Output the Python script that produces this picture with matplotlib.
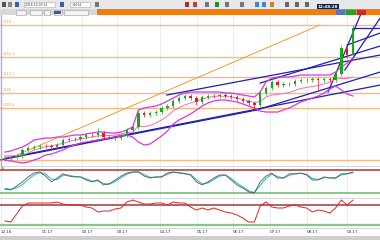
import matplotlib
matplotlib.use("Agg")
import matplotlib.pyplot as plt
from matplotlib.patches import Rectangle

# daily closes (price units)
first_open = 1048
closes = [1050, 1052, 1054, 1066, 1070, 1072, 1074, 1074, 1072, 1076,
          1086, 1088, 1088, 1092, 1096, 1096, 1100, 1092, 1092, 1090,
          1096, 1106, 1112, 1140, 1136, 1140, 1142, 1150, 1154, 1164,
          1170, 1174, 1170, 1162, 1172, 1174, 1174, 1176, 1174, 1172,
          1168, 1164, 1160, 1156, 1180, 1190, 1202, 1196, 1198, 1198,
          1204, 1206, 1206, 1208, 1206, 1208, 1206, 1218, 1270, 1256, 1310]
highs = [1054, 1056, 1058, 1070, 1074, 1076, 1078, 1078, 1078, 1080,
         1090, 1092, 1092, 1096, 1100, 1100, 1110, 1104, 1096, 1096,
         1100, 1110, 1116, 1146, 1144, 1144, 1146, 1154, 1158, 1168,
         1174, 1178, 1178, 1174, 1176, 1178, 1178, 1180, 1180, 1178,
         1176, 1172, 1168, 1164, 1184, 1194, 1206, 1206, 1202, 1202,
         1208, 1210, 1210, 1212, 1212, 1212, 1212, 1222, 1276, 1274, 1316]
lows = [1044, 1046, 1048, 1050, 1062, 1066, 1068, 1070, 1068, 1068,
        1072, 1082, 1084, 1084, 1088, 1092, 1092, 1088, 1088, 1086,
        1086, 1092, 1102, 1108, 1132, 1132, 1136, 1138, 1146, 1150,
        1160, 1166, 1166, 1156, 1158, 1168, 1170, 1170, 1170, 1168,
        1164, 1160, 1156, 1146, 1152, 1176, 1186, 1192, 1192, 1194,
        1194, 1200, 1202, 1202, 1186, 1202, 1202, 1202, 1214, 1250, 1252]

# bollinger bands as drawn on the chart
bb_upper = [1062, 1064, 1068, 1072, 1078, 1086, 1088, 1090, 1090, 1092,
            1092, 1094, 1096, 1096, 1098, 1100, 1102, 1102, 1100, 1100,
            1102, 1106, 1112, 1146, 1150, 1152, 1154, 1158, 1164, 1170,
            1176, 1180, 1182, 1182, 1182, 1182, 1182, 1182, 1180, 1180,
            1178, 1176, 1174, 1172, 1182, 1202, 1210, 1212, 1212, 1212,
            1214, 1216, 1216, 1216, 1216, 1216, 1216, 1222, 1232, 1240, 1250]
bb_mid = [1054, 1054, 1055, 1056, 1060, 1066, 1069, 1073, 1074, 1077,
          1079, 1083, 1086, 1088, 1090, 1092, 1094, 1095, 1095, 1096,
          1098, 1101, 1102, 1114, 1113, 1115, 1120, 1126, 1134, 1144,
          1151, 1156, 1160, 1164, 1168, 1171, 1173, 1174, 1173, 1172,
          1170, 1167, 1164, 1161, 1163, 1172, 1176, 1177, 1179, 1181,
          1185, 1189, 1191, 1193, 1195, 1198, 1202, 1208, 1209, 1209, 1212]
bb_lower = [1046, 1044, 1042, 1040, 1042, 1046, 1050, 1056, 1058, 1062,
            1066, 1072, 1076, 1080, 1082, 1084, 1086, 1088, 1090, 1092,
            1094, 1096, 1092, 1082, 1076, 1078, 1086, 1094, 1104, 1118,
            1126, 1132, 1138, 1146, 1154, 1160, 1164, 1166, 1166, 1164,
            1162, 1158, 1154, 1150, 1144, 1142, 1142, 1142, 1146, 1150,
            1156, 1162, 1166, 1170, 1174, 1180, 1188, 1194, 1186, 1178, 1174]

# oscillators
stoch_k = [30, 28, 38, 49, 62, 72, 75, 64, 49, 59, 70, 64, 62, 62, 54, 49,
           54, 41, 44, 54, 64, 72, 75, 75, 64, 59, 62, 62, 72, 75, 72, 70,
           67, 49, 41, 49, 59, 67, 67, 54, 41, 33, 23, 20, 49, 64, 72, 59,
           59, 70, 70, 72, 67, 54, 54, 62, 59, 59, 70, 70, 75]
stoch_d = [32, 30, 33, 42, 55, 67, 73, 70, 56, 55, 66, 67, 63, 62, 57, 51,
           52, 45, 43, 50, 60, 69, 74, 75, 68, 61, 61, 62, 69, 74, 73, 71,
           68, 55, 44, 46, 55, 64, 67, 58, 46, 36, 26, 21, 40, 58, 69, 63,
           59, 66, 70, 71, 69, 58, 55, 60, 60, 59, 67, 70, 73]
rsi = [38, 36, 52, 68, 74, 74, 74, 74, 74, 76, 72, 70, 70, 70, 66, 64,
       56, 58, 58, 62, 64, 76, 80, 76, 72, 72, 74, 74, 70, 76, 74, 74,
       66, 60, 64, 60, 64, 60, 56, 54, 50, 44, 36, 36, 68, 76, 66, 64,
       64, 68, 70, 66, 64, 56, 60, 58, 54, 64, 80, 70, 80]

# drawn objects
levels = [1316, 1252, 1212, 1180, 1150, 1046]
level_labels = ["1316", "1252.1", "1212.1", "1180", "1150.5", "1046"]
orange_trend = [(0.9, 54.3), (1050, 1316)]
blue_lines = [
    [(0.3, 64.7), (1050, 1196)],
    [(-0.9, 43.4), (1046, 1146)],
    [(43.4, 64.7), (1146, 1222)],
    [(27.9, 64.7), (1176, 1256)],
    [(44.0, 64.7), (1200, 1274)],
    [(55.7, 61.5), (1182, 1342)],
    [(58.6, 64.7), (1226, 1330)],
    [(59.0, 64.7), (1276, 1300)],
    [(60.0, 64.7), (1310, 1310)],
]
date_pos = [-0.7, 6.4, 13.3, 19.3, 26.7, 33.1, 39.3, 45.7, 52.1, 59.0]
date_labels = ["12.16", "01.17", "02.17", "03.17", "04.17", "05.17",
               "06.17", "07.17", "08.17", "09.17"]

W, H = 380, 240


def rect(top, bottom, left=0, right=W):
    return [left / W, 1 - bottom / H, (right - left) / W, (bottom - top) / H]


def box(x0, y0, x1, y1, color, **kw):
    fig.add_artist(Rectangle((x0 / W, 1 - y1 / H), (x1 - x0) / W, (y1 - y0) / H,
                             transform=fig.transFigure, facecolor=color,
                             edgecolor=kw.pop("ec", "none"), lw=0.4, **kw))


fig = plt.figure(figsize=(3.8, 2.4), dpi=100)
fig.patch.set_facecolor("white")

xmin, xmax = -0.86, 64.66
ax = fig.add_axes(rect(15, 166))
osc1 = fig.add_axes(rect(166, 198), sharex=ax)
osc2 = fig.add_axes(rect(198, 228), sharex=ax)

for a in (ax, osc1, osc2):
    a.set_facecolor("white")
    for s in a.spines.values():
        s.set_visible(False)
    a.set_yticks([])
    a.tick_params(axis="x", length=0, labelbottom=False)
    for p in date_pos:
        a.axvline(p, color="#e4e4e4", lw=0.5, zorder=0)
ax.set_xlim(xmin, xmax)

# main price panel
ax.set_ylim(1034, 1336)
for lv, lab in zip(levels, level_labels):
    ax.axhline(lv, color="#f7bb80", lw=1.0, zorder=1)
    ax.text(3 / 5.8 - 0.86, lv + 2, lab, fontsize=2.5, color="#e89a50",
            va="bottom", ha="left")
ax.plot(orange_trend[0], orange_trend[1], color="#f39a3c", lw=0.7, zorder=2)
for xs, ys in blue_lines:
    ax.plot(xs, ys, color="#1e1eb8", lw=0.9, zorder=2)

ax.plot(range(len(bb_upper)), bb_upper, color="#d838d8", lw=0.9, zorder=3)
ax.plot(range(len(bb_lower)), bb_lower, color="#d838d8", lw=0.9, zorder=3)
ax.plot(range(len(bb_mid)), bb_mid, color="#f070b0", lw=0.7, zorder=3)

opens = [first_open] + closes[:-1]
idx = list(range(len(closes)))
cols = ["#1aa81a" if c > o else "#e02020" for o, c in zip(opens, closes)]
ax.vlines(idx, lows, highs, colors=cols, lw=0.5, zorder=4)
ax.bar(idx, [abs(c - o) + 1 for o, c in zip(opens, closes)],
       bottom=[min(o, c) for o, c in zip(opens, closes)],
       width=0.4, color=cols, zorder=5)
ax.axvline(xmin + 0.12, color="#b9a0e0", lw=1.0)

# stochastic panel
osc1.set_ylim(7, 90.4)
osc1.axhline(80, color="#a83434", lw=1.1)
osc1.axhline(20, color="#86c886", lw=1.4)
osc1.plot(idx, stoch_d, color="#35c4c4", lw=0.8)
osc1.plot(idx, stoch_k, color="#555555", lw=0.6)
osc1.text(xmin + 0.2, 83, "80", fontsize=2.5, color="#444444")

# rsi panel
osc2.set_ylim(24, 84)
osc2.axhline(70, color="#a83434", lw=1.1)
osc2.axhline(30, color="#86c886", lw=1.6)
osc2.plot(idx, rsi, color="#e02424", lw=0.7)
osc2.set_xticks(date_pos)
osc2.set_xticklabels(date_labels)
osc2.tick_params(axis="x", labelbottom=True, labelsize=3, pad=1.5,
                 labelcolor="#333333")
for t in osc2.get_xticklabels():
    t.set_ha("left")

# panel separators
for y in (166, 198, 228):
    fig.add_artist(plt.Line2D([0, 1], [1 - y / H] * 2, transform=fig.transFigure,
                              color="#c8c8c8", lw=0.5))

# toolbar and tab strip
box(0, 0, W, 9.5, "#e8e8e8")
toolbar_icons = [(2, "#555555"), (8, "#888888"), (15, "#3b5fb0"), (60, "#3b5fb0"),
                 (95, "#777777"), (185, "#b03030"), (193, "#c04040"),
                 (205, "#777777"), (215, "#2a8a2a"), (225, "#777777"),
                 (240, "#777777"), (255, "#4a80d0"), (262, "#4a80d0"),
                 (270, "#d08020"), (285, "#666666"), (295, "#666666"),
                 (305, "#666666")]
for x, c in toolbar_icons:
    box(x, 2.5, x + 4, 7, c)
box(24, 2.5, 55, 7, "white", ec="#aaaaaa")
fig.text(25 / W, 1 - 6.5 / H, "2016.10.09 12", fontsize=2.2, color="#333333")
box(70, 2.5, 90, 7, "white", ec="#aaaaaa")
fig.text(72 / W, 1 - 6.5 / H, "+2014", fontsize=2.2, color="#333333")
box(317, 4, 339, 10.5, "#142040")
fig.text(328 / W, 1 - 7.3 / H, "12:48:28", fontsize=3, color="white",
         ha="center", va="center", weight="bold")

box(0, 9.5, 97, 15, "#d8d8d8")
for x0, x1 in [(16, 26), (30, 42), (44, 50), (54, 62), (64, 88)]:
    box(x0, 10.3, x1, 14.5, "#f4f4f4", ec="#999999")
box(54, 10.8, 61, 14, "#4050c0")
box(97, 9.5, W, 15, "#ef7d12")
box(336, 10.3, 345, 14.5, "#5a78b8")
box(346, 10.3, 356, 14.5, "#2aa02a")
box(357, 10.3, 366, 14.5, "#d02828")

# bottom status strip
box(0, 236, W, H, "#cfcfcf")

fig.savefig("out.png", dpi=100)
